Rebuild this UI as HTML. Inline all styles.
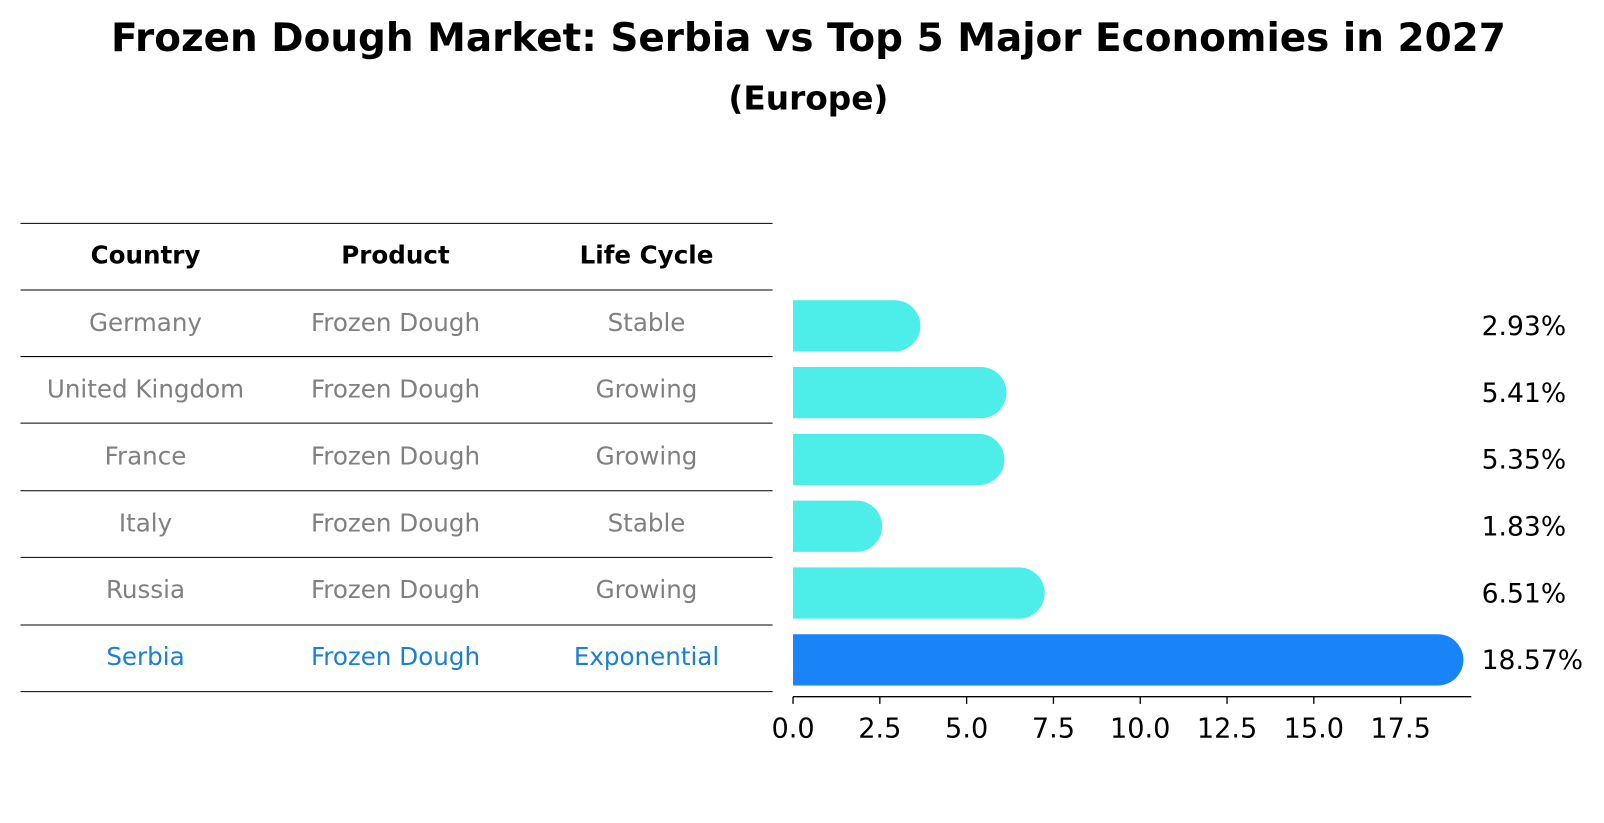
<!DOCTYPE html>
<html><head><meta charset="utf-8">
<style>
body{margin:0;background:#fff;font-family:"Liberation Sans","DejaVu Sans",sans-serif;}
#wrap{position:relative;width:1604px;height:823px;overflow:hidden;}
</style></head>
<body>
<div id="wrap">
<svg id="svg" width="1604" height="823" xmlns="http://www.w3.org/2000/svg">
<g transform="scale(1.0246)">
<text x="789" y="50" text-anchor="middle" font-size="38" font-weight="bold" font-family="DejaVu Sans, Liberation Sans, sans-serif">Frozen Dough Market: Serbia vs Top 5 Major Economies in 2027</text>
<text x="789" y="107" text-anchor="middle" font-size="32" font-weight="bold" font-family="DejaVu Sans, Liberation Sans, sans-serif">(Europe)</text>
<g id="table"></g>
<g id="bars"></g>
</g>
</svg>
</div>
<script>
const countries=["Germany","United Kingdom","France","Italy","Russia","Serbia"];
const products=["Frozen Dough","Frozen Dough","Frozen Dough","Frozen Dough","Frozen Dough","Frozen Dough"];
const lifecycle=["Stable","Growing","Growing","Stable","Growing","Exponential"];
const values=[2.93,5.41,5.35,1.83,6.51,18.57];
const labels=["2.93%","5.41%","5.35%","1.83%","6.51%","18.57%"];
const ticks=[0,2.5,5,7.5,10,12.5,15,17.5];
const tickLabels=["0.0","2.5","5.0","7.5","10.0","12.5","15.0","17.5"];

const NS="http://www.w3.org/2000/svg";
const x0=774, scale=(1367-774)/17.5;
const xs=v=>x0+v*scale;
const rowY=i=>316+i*65.2;
function mk(tag,attrs,parent,text){const e=document.createElementNS(NS,tag);for(const k in attrs)e.setAttribute(k,attrs[k]);if(text!==undefined)e.textContent=text;parent.appendChild(e);return e;}
const font="DejaVu Sans, Liberation Sans, sans-serif";
const tbl=document.getElementById('table');
const lineYs=[218,283];
for(let i=0;i<countries.length;i++)lineYs.push(Math.round(348+i*65.4));
lineYs.forEach((y,i)=>{
 const l=mk('line',{x1:20,x2:754,y1:y,y2:y,stroke:'#000','stroke-width':1},tbl);
 
 
});
const colX=[142,386,631];
["Country","Product","Life Cycle"].forEach((h,j)=>{
 const t=mk('text',{x:colX[j],y:257,'text-anchor':'middle','font-size':24,'font-weight':'bold','font-family':font},tbl,h);
 
 
});
countries.forEach((c,i)=>{
 const col=i===countries.length-1?'#1a7fd6':'#808080';
 [c,products[i],lifecycle[i]].forEach((v,j)=>{
  const t=mk('text',{x:colX[j],y:rowY(i)+7,'text-anchor':'middle','font-size':24,fill:col,'font-family':font},tbl,v);
  
  
 });
});
const bg=document.getElementById('bars');
const h=50,r=25;
values.forEach((v,i)=>{
 const cy=rowY(i)+2;
 const col=i===values.length-1?'#1884f7':'#4deeea';
 const p=mk('path',{d:`M${x0},${cy-h/2} H${xs(v)} A${r},${r} 0 0 1 ${xs(v)},${cy+h/2} H${x0} Z`,fill:col},bg);
 
 
 const t=mk('text',{x:1446,y:cy+9,'font-size':26,'font-family':font},bg,labels[i]);
 
 
});
const ax=mk('line',{x1:x0,x2:1436,y1:680,y2:680,stroke:'#000','stroke-width':1.3},bg);


ticks.forEach((t,i)=>{
 const tk=mk('line',{x1:xs(t),x2:xs(t),y1:680,y2:687,stroke:'#000','stroke-width':1.3},bg);
 
 
 const tl=mk('text',{x:xs(t),y:720,'text-anchor':'middle','font-size':26.5,'font-family':font},bg,tickLabels[i]);
 
 
});
</script>
</body></html>
